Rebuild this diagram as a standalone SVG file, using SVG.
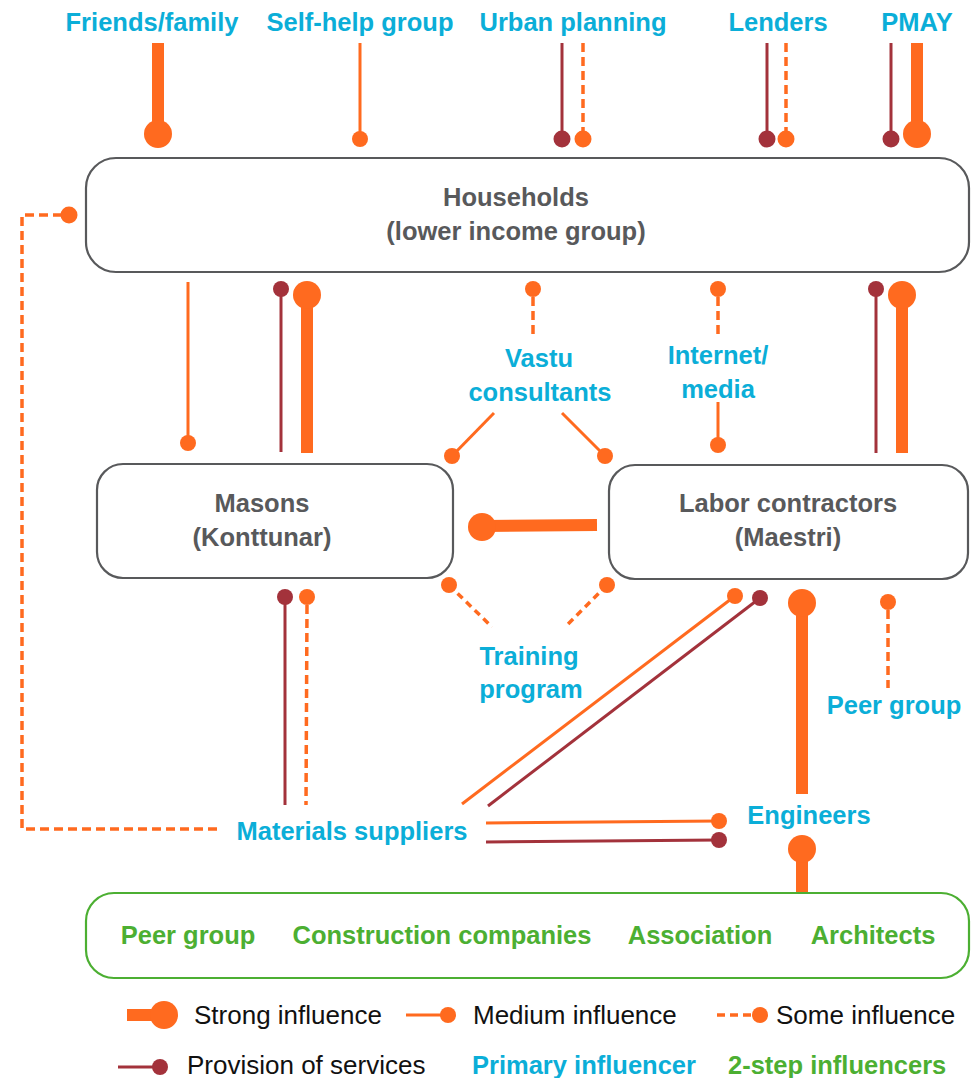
<svg xmlns="http://www.w3.org/2000/svg" width="978" height="1078" viewBox="0 0 978 1078">
<style>
.box{fill:#fff;stroke:#58595B;stroke-width:2.2}
.gbox{fill:#fff;stroke:#4CAF32;stroke-width:2.2}
.t{font-family:"Liberation Sans",Arial,sans-serif;font-weight:bold;font-size:25.5px;text-anchor:middle}
.node{fill:#58595B}
.pri{fill:#0BAED8}
.two{fill:#4CAF32}
.leg{font-family:"Liberation Sans",Arial,sans-serif;font-size:26px;fill:#111}
.lb{font-family:"Liberation Sans",Arial,sans-serif;font-size:25.5px;font-weight:bold}
.s{stroke:#FF6A1F;stroke-width:12;fill:none}
.m{stroke:#FF6A1F;stroke-width:3;fill:none}
.d{stroke:#FF6A1F;stroke-width:3.5;stroke-dasharray:9 5;fill:none}
.p{stroke:#A3323B;stroke-width:3;fill:none}
.o{fill:#FF6A1F}
.r{fill:#A3323B}
</style>
<rect width="978" height="1078" fill="#fff"/>

<g id="connectors">
  <line class="s" x1="158" y1="43" x2="158" y2="134"/><circle class="o" cx="158" cy="134" r="14"/>
  <line class="m" x1="360" y1="43" x2="360" y2="139"/><circle class="o" cx="360" cy="139" r="8"/>
  <line class="p" x1="562" y1="43" x2="562" y2="139"/><circle class="r" cx="562" cy="139" r="8.5"/>
  <line class="d" x1="583" y1="43" x2="583" y2="131"/><circle class="o" cx="583" cy="139" r="8.5"/>
  <line class="p" x1="767" y1="43" x2="767" y2="139"/><circle class="r" cx="767" cy="139" r="8.5"/>
  <line class="d" x1="786" y1="43" x2="786" y2="131"/><circle class="o" cx="786" cy="139" r="8.5"/>
  <line class="p" x1="891" y1="43" x2="891" y2="139"/><circle class="r" cx="891" cy="139" r="8.5"/>
  <line class="s" x1="917" y1="43" x2="917" y2="134"/><circle class="o" cx="917" cy="134" r="14"/>

  <path class="d" d="M62,215 H22 V829 H218"/><circle class="o" cx="69" cy="215" r="8.5"/>

  <line class="m" x1="188" y1="282" x2="188" y2="443"/><circle class="o" cx="188" cy="443" r="8"/>
  <line class="p" x1="281" y1="289" x2="281" y2="452"/><circle class="r" cx="281" cy="289" r="8"/>
  <line class="s" x1="307" y1="295" x2="307" y2="453"/><circle class="o" cx="307" cy="295" r="14"/>
  <line class="d" x1="533" y1="297" x2="533" y2="337"/><circle class="o" cx="533" cy="289" r="8"/>
  <line class="d" x1="718" y1="297" x2="718" y2="336"/><circle class="o" cx="718" cy="289" r="8"/>
  <line class="p" x1="876" y1="289" x2="876" y2="453"/><circle class="r" cx="876" cy="289" r="8"/>
  <line class="s" x1="902" y1="295" x2="902" y2="453"/><circle class="o" cx="902" cy="295" r="14"/>

  <line class="m" x1="494" y1="413" x2="452" y2="456"/><circle class="o" cx="452" cy="456" r="8"/>
  <line class="m" x1="562" y1="413" x2="605" y2="456"/><circle class="o" cx="605" cy="456" r="8"/>
  <line class="m" x1="718" y1="402" x2="718" y2="445"/><circle class="o" cx="718" cy="445" r="8"/>

  <line class="s" x1="482" y1="526" x2="597" y2="525"/><circle class="o" cx="482" cy="527" r="14"/>

  <line class="p" x1="285" y1="597" x2="285" y2="805"/><circle class="r" cx="285" cy="597" r="8"/>
  <line class="d" x1="307" y1="605" x2="306" y2="805"/><circle class="o" cx="307" cy="597" r="8"/>

  <line class="d" x1="449" y1="585" x2="492" y2="627" style="stroke-dasharray:7 5"/><circle class="o" cx="449" cy="585" r="8"/>
  <line class="d" x1="607" y1="585" x2="565" y2="627" style="stroke-dasharray:7 5"/><circle class="o" cx="607" cy="585" r="8"/>

  <line class="m" x1="462" y1="804" x2="735" y2="596"/><circle class="o" cx="735" cy="596" r="8"/>
  <line class="p" x1="488" y1="806" x2="760" y2="598"/><circle class="r" cx="760" cy="598" r="8"/>
  <line class="m" x1="486" y1="823" x2="719" y2="821"/><circle class="o" cx="719" cy="821" r="8"/>
  <line class="p" x1="486" y1="842" x2="719" y2="840"/><circle class="r" cx="719" cy="840" r="8"/>

  <line class="s" x1="802" y1="603" x2="802" y2="794"/><circle class="o" cx="802" cy="603" r="14"/>
  <line class="s" x1="802" y1="849" x2="802" y2="893"/><circle class="o" cx="802" cy="849" r="14"/>

  <line class="d" x1="888" y1="610" x2="888" y2="688"/><circle class="o" cx="888" cy="602" r="8"/>
</g>

<g id="friends-family"><text class="t pri" x="152" y="31">Friends/family</text></g>
<g id="self-help-group"><text class="t pri" x="360" y="31">Self-help group</text></g>
<g id="urban-planning"><text class="t pri" x="573" y="31">Urban planning</text></g>
<g id="lenders"><text class="t pri" x="778" y="31">Lenders</text></g>
<g id="pmay"><text class="t pri" x="917" y="31">PMAY</text></g>

<g id="households">
  <rect class="box" x="86" y="158" width="883" height="114" rx="30"/>
  <text class="t node" x="516" y="206">Households</text>
  <text class="t node" x="516" y="240">(lower income group)</text>
</g>

<g id="vastu-consultants">
  <text class="t pri" x="539" y="367">Vastu</text>
  <text class="t pri" x="540" y="401">consultants</text>
</g>
<g id="internet-media">
  <text class="t pri" x="718" y="364">Internet/</text>
  <text class="t pri" x="718" y="398">media</text>
</g>

<g id="masons">
  <rect class="box" x="97" y="464" width="356" height="114" rx="26"/>
  <text class="t node" x="262" y="512">Masons</text>
  <text class="t node" x="262" y="546">(Konttunar)</text>
</g>
<g id="labor-contractors">
  <rect class="box" x="609" y="465" width="359" height="114" rx="26"/>
  <text class="t node" x="788" y="512">Labor contractors</text>
  <text class="t node" x="788" y="546">(Maestri)</text>
</g>

<g id="training-program">
  <text class="t pri" x="529" y="665">Training</text>
  <text class="t pri" x="531" y="698">program</text>
</g>
<g id="peer-group"><text class="t pri" x="894" y="714">Peer group</text></g>
<g id="engineers"><text class="t pri" x="809" y="824">Engineers</text></g>
<g id="materials-suppliers"><text class="t pri" x="352" y="840">Materials suppliers</text></g>

<g id="two-step-influencers">
  <rect class="gbox" x="86" y="893" width="883" height="85" rx="28"/>
  <text class="t two" x="188" y="944">Peer group</text>
  <text class="t two" x="442" y="944">Construction companies</text>
  <text class="t two" x="700" y="944">Association</text>
  <text class="t two" x="873" y="944">Architects</text>
</g>

<g id="legend">
  <rect x="127" y="1009" width="36" height="12" fill="#FF6A1F"/><circle class="o" cx="164" cy="1015" r="14"/>
  <text class="leg" x="194" y="1024">Strong influence</text>
  <line class="m" x1="406" y1="1015" x2="448" y2="1015"/><circle class="o" cx="448" cy="1015" r="8"/>
  <text class="leg" x="473" y="1024">Medium influence</text>
  <line class="d" x1="717" y1="1015" x2="758" y2="1015" style="stroke-dasharray:8 5"/><circle class="o" cx="760" cy="1015" r="8"/>
  <text class="leg" x="776" y="1024">Some influence</text>
  <line class="p" x1="118" y1="1067" x2="160" y2="1067"/><circle class="r" cx="160" cy="1067" r="8"/>
  <text class="leg" x="187" y="1074">Provision of services</text>
  <text class="lb pri" x="472" y="1074">Primary influencer</text>
  <text class="lb two" x="728" y="1074">2-step influencers</text>
</g>
</svg>
